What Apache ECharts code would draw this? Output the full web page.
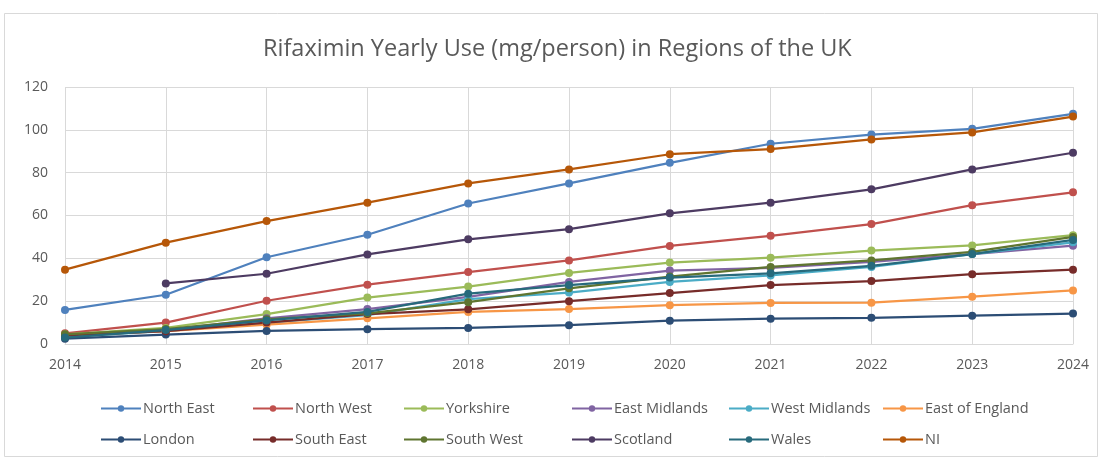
<!DOCTYPE html>
<html>
<head>
<meta charset="utf-8">
<script src="https://cdn.jsdelivr.net/npm/echarts@6/dist/echarts.min.js"></script>
<style>
  html, body { margin: 0; padding: 0; background: #ffffff; }
  #chart { width: 1099px; height: 458px; }
</style>
</head>
<body>
<div id="chart"></div>
<script>
// Years on the x axis
const years = ['2014','2015','2016','2017','2018','2019','2020','2021','2022','2023','2024'];

// Rifaximin use, mg per person, by region
const northEast     = [15.9, 23.0, 40.5, 51.0, 65.6, 75.0, 84.6, 93.5, 97.8, 100.5, 107.5];
const northWest     = [5.0, 10.0, 20.2, 27.7, 33.6, 39.0, 45.8, 50.5, 56.0, 64.8, 70.8];
const yorkshire     = [4.5, 7.5, 14.0, 21.7, 26.8, 33.2, 38.0, 40.3, 43.6, 46.0, 50.8];
const eastMidlands  = [4.0, 6.5, 12.0, 16.3, 22.0, 29.0, 34.3, 35.5, 38.4, 42.0, 45.9];
const westMidlands  = [3.5, 6.0, 10.0, 13.5, 21.0, 24.0, 29.0, 32.0, 36.0, 42.0, 47.5];
const eastEngland   = [4.0, 6.0, 9.0, 12.0, 15.0, 16.3, 18.1, 19.2, 19.3, 22.1, 25.0];
const london        = [2.5, 4.4, 6.1, 6.9, 7.5, 8.8, 10.9, 11.8, 12.2, 13.2, 14.2];
const southEast     = [4.0, 6.0, 10.0, 14.0, 16.2, 20.0, 23.8, 27.5, 29.4, 32.6, 34.7];
const southWest     = [4.5, 7.0, 11.5, 14.3, 19.5, 26.0, 31.5, 36.0, 39.0, 43.0, 50.0];
const scotland      = [null, 28.3, 32.8, 41.8, 48.9, 53.6, 61.0, 66.0, 72.2, 81.5, 89.3];
const wales         = [3.0, 6.5, 11.0, 15.0, 23.5, 27.5, 31.0, 33.0, 36.5, 42.0, 48.6];
const ni            = [34.7, 47.3, 57.4, 66.0, 75.0, 81.5, 88.6, 91.0, 95.5, 98.8, 106.2];

// Y axis ticks
const yTicks = { min: 0, max: 120, interval: 20 };

const regions = [
  { name: 'North East',      data: northEast,    color: '#4F81BD' },
  { name: 'North West',      data: northWest,    color: '#C0504D' },
  { name: 'Yorkshire',       data: yorkshire,    color: '#9BBB59' },
  { name: 'East Midlands',   data: eastMidlands, color: '#8064A2' },
  { name: 'West Midlands',   data: westMidlands, color: '#4BACC6' },
  { name: 'East of England', data: eastEngland,  color: '#F79646' },
  { name: 'London',          data: london,       color: '#2C4D75' },
  { name: 'South East',      data: southEast,    color: '#772C2A' },
  { name: 'South West',      data: southWest,    color: '#5F7530' },
  { name: 'Scotland',        data: scotland,     color: '#4D3B62' },
  { name: 'Wales',           data: wales,        color: '#276A7C' },
  { name: 'NI',              data: ni,           color: '#B65708' }
];

const textColor = '#595959';
const fontFamily = '"Open Sans", "Liberation Sans", sans-serif';

// Legend laid out as six columns of two entries
const legendCols = [95, 247, 398, 566, 723, 877];
const legends = legendCols.map((x, i) => ({
  orient: 'vertical',
  left: x,
  top: 396,
  itemGap: 16,
  itemWidth: 40,
  itemHeight: 8,
  data: [regions[i].name, regions[i + 6].name],
  textStyle: { color: textColor, fontSize: 14.5, fontFamily: fontFamily, padding: [0, 0, 0, -3] }
}));

const chart = echarts.init(document.getElementById('chart'));
chart.setOption({
  backgroundColor: '#ffffff',
  animation: false,
  graphic: [{
    type: 'rect',
    shape: { x: 4.5, y: 13.5, width: 1093, height: 443 },
    style: { fill: 'none', stroke: '#d9d9d9', lineWidth: 1 },
    z: -1
  }],
  title: {
    text: 'Rifaximin Yearly Use (mg/person) in Regions of the UK',
    left: 258,
    top: 32,
    textStyle: { color: textColor, fontSize: 23.5, fontWeight: 'normal', fontFamily: fontFamily }
  },
  legend: legends,
  grid: { left: 65, right: 26, top: 87, bottom: 114 },
  xAxis: {
    type: 'category',
    data: years,
    boundaryGap: false,
    axisLine: { lineStyle: { color: '#d9d9d9', width: 1 } },
    axisTick: { show: false },
    splitLine: { show: true, lineStyle: { color: '#d9d9d9', width: 1 } },
    axisLabel: { color: textColor, fontSize: 14, fontFamily: fontFamily, margin: 14 }
  },
  yAxis: {
    type: 'value',
    min: yTicks.min,
    max: yTicks.max,
    interval: yTicks.interval,
    axisLine: { show: false },
    axisTick: { show: false },
    splitLine: { lineStyle: { color: '#d9d9d9', width: 1 } },
    axisLabel: { color: textColor, fontSize: 14, fontFamily: fontFamily, margin: 17 }
  },
  series: regions.map(r => ({
    name: r.name,
    type: 'line',
    data: r.data,
    color: r.color,
    symbol: 'circle',
    symbolSize: 8,
    showSymbol: true,
    connectNulls: false,
    lineStyle: { width: 2.25, color: r.color },
    itemStyle: { color: r.color }
  }))
});
</script>
</body>
</html>
